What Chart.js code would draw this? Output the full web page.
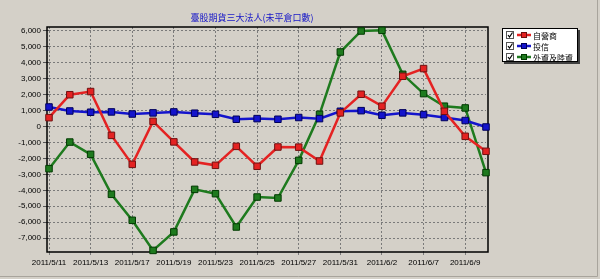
<!DOCTYPE html>
<html>
<head>
<meta charset="utf-8">
<script src="https://cdn.jsdelivr.net/npm/chart.js@4"></script>
<style>
  html,body{margin:0;padding:0;background:#d4d0c8;}
  #wrap{width:600px;height:279px;position:relative;}
</style>
</head>
<body>
<div id="wrap"><canvas id="chart" width="600" height="279"></canvas></div>
<script>
// data
const dates = ['2011/5/11','2011/5/12','2011/5/13','2011/5/16','2011/5/17','2011/5/18','2011/5/19','2011/5/20',
  '2011/5/23','2011/5/24','2011/5/25','2011/5/26','2011/5/27','2011/5/30','2011/5/31','2011/6/1',
  '2011/6/2','2011/6/3','2011/6/7','2011/6/8','2011/6/9','2011/6/10'];
const dealers = [560,2000,2200,-550,-2370,330,-960,-2220,-2430,-1240,-2490,-1280,-1290,-2160,860,2030,1280,3160,3640,960,-610,-1550];
const trusts = [1230,980,900,920,790,860,920,840,770,460,500,460,570,500,960,1000,710,860,750,570,380,-25];
const foreign = [-2640,-970,-1740,-4250,-5880,-7770,-6610,-3940,-4210,-6300,-4420,-4480,-2120,770,4680,6000,6040,3280,2070,1280,1170,-2890];
const yTicks = [-7000,-6000,-5000,-4000,-3000,-2000,-1000,0,1000,2000,3000,4000,5000,6000];
const seriesNames = ['自營商','投信','外資及陸資'];
const titleText = '臺股期貨三大法人(未平倉口數)';

const lineCols = ['#e42222','#1414cc','#1e7a1e'];
const edgeCols = ['#701010','#00005a','#003a00'];
const fontLatin = '"Liberation Sans", Arial, sans-serif';
const fontCJK = '"Noto Sans CJK TC", "Noto Sans CJK SC", sans-serif';

function ds(i, values){
  return {
    label: seriesNames[i], data: values,
    borderColor: lineCols[i], backgroundColor: lineCols[i], borderWidth: 2.5,
    pointStyle: 'rect', pointRadius: 4.6, pointBorderWidth: 1,
    pointBackgroundColor: lineCols[i], pointBorderColor: edgeCols[i],
    tension: 0, clip: false
  };
}

// frame, title and the checkbox legend
const decor = {
  id: 'decor',
  beforeDatasetsDraw(chart){
    const {ctx, chartArea: a} = chart;
    ctx.save();
    ctx.strokeStyle = '#000'; ctx.lineWidth = 1.5;
    ctx.strokeRect(a.left - 2, a.top, a.right - a.left + 4, a.bottom - a.top);
    ctx.restore();
  },
  afterDraw(chart){
    const {ctx} = chart;
    ctx.save();
    // title
    ctx.fillStyle = '#1616c8';
    ctx.font = '9px ' + fontCJK;
    ctx.textAlign = 'center'; ctx.textBaseline = 'middle';
    ctx.fillText(titleText, 252, 18);
    // outer frame lines
    ctx.strokeStyle = '#a8a49c'; ctx.lineWidth = 1;
    ctx.beginPath(); ctx.moveTo(0, 276.5); ctx.lineTo(597.5, 276.5); ctx.lineTo(597.5, 0); ctx.stroke();
    // legend box
    const lx = 502, ly = 28, lw = 76, lh = 34;
    ctx.fillStyle = '#404040';
    ctx.fillRect(lx + 2, ly + 2, lw, lh);
    ctx.fillStyle = '#fff';
    ctx.fillRect(lx, ly, lw, lh);
    ctx.strokeStyle = '#000'; ctx.lineWidth = 1;
    ctx.strokeRect(lx + 0.5, ly + 0.5, lw - 1, lh - 1);
    ctx.textAlign = 'left';
    ctx.font = '8px ' + fontCJK;
    seriesNames.forEach((name, i) => {
      const cy = 35 + i * 11;
      // checkbox
      ctx.fillStyle = '#fff'; ctx.strokeStyle = '#555';
      ctx.strokeRect(506.5, cy - 3.5, 7, 7);
      ctx.strokeStyle = '#000'; ctx.lineWidth = 1.2;
      ctx.beginPath(); ctx.moveTo(508, cy); ctx.lineTo(509.5, cy + 2); ctx.lineTo(512.5, cy - 2.5); ctx.stroke();
      ctx.lineWidth = 1;
      // line icon
      ctx.strokeStyle = lineCols[i]; ctx.lineWidth = 2.5;
      ctx.beginPath(); ctx.moveTo(517, cy); ctx.lineTo(531, cy); ctx.stroke();
      ctx.fillStyle = lineCols[i]; ctx.fillRect(521, cy - 3, 6, 6);
      ctx.strokeStyle = edgeCols[i]; ctx.lineWidth = 1;
      ctx.strokeRect(521.5, cy - 2.5, 5, 5);
      ctx.fillStyle = '#000';
      ctx.fillText(name, 533, cy + 0.5);
    });
    ctx.restore();
  }
};

new Chart(document.getElementById('chart'), {
  type: 'line',
  data: { labels: dates, datasets: [ds(0, dealers), ds(1, trusts), ds(2, foreign)] },
  options: {
    responsive: false, animation: false,
    layout: { padding: { left: 0, right: 114, top: 27, bottom: 0 } },
    plugins: { legend: { display: false }, title: { display: false }, tooltip: { enabled: false } },
    scales: {
      x: {
        offset: false,
        afterFit(s){ s.height = 27; },
        border: { display: false, dash: [2, 2] },
        grid: {
          color: c => (c.index % 2 === 0 ? '#7a7a7a' : 'rgba(0,0,0,0)'),
          tickColor: c => (c.index % 2 === 0 ? '#7a7a7a' : 'rgba(0,0,0,0)'),
          tickLength: 3, lineWidth: 1
        },
        ticks: {
          autoSkip: false, maxRotation: 0, padding: 3, color: '#000',
          font: { family: fontLatin, size: 8 },
          callback: (v, i) => (i % 2 === 0 ? dates[i] : '')
        }
      },
      y: {
        min: -7870, max: 6250,
        afterFit(s){ s.width = 49; },
        afterBuildTicks(s){ s.ticks = yTicks.map(v => ({ value: v })); },
        border: { display: false, dash: [2, 2] },
        grid: { color: '#7a7a7a', tickColor: '#555', tickLength: 6, lineWidth: 1 },
        ticks: {
          padding: 2, color: '#000',
          font: { family: fontLatin, size: 8 },
          callback: v => v.toLocaleString('en-US')
        }
      }
    }
  },
  plugins: [decor]
});
</script>
</body>
</html>
